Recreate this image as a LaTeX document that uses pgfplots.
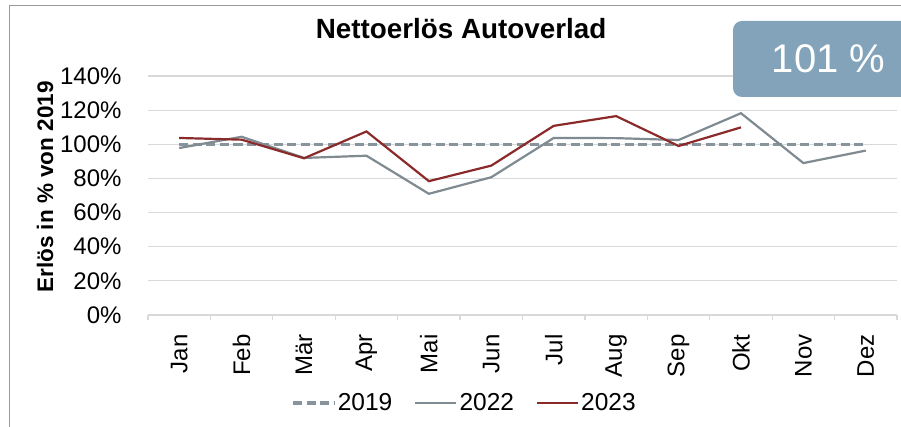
\documentclass[border=0pt]{standalone}
\usepackage{pgfplots}
\pgfplotsset{compat=1.18}
\usepackage{fontspec}
\setmainfont{Liberation Sans}
\definecolor{c19}{HTML}{87949B}
\definecolor{c22}{HTML}{7F8A91}
\definecolor{c23}{HTML}{8B2A2A}
\definecolor{boxc}{HTML}{82A3BA}
\definecolor{gridc}{HTML}{D9D9D9}
\begin{document}
\begin{tikzpicture}[x=1pt,y=1pt]
\useasboundingbox (0,0) rectangle (901,427);
\clip (0,0) rectangle (901,427);
\draw[color=black!40, line width=1pt] (9.5,-5) -- (9.5,421) -- (910,421);
\begin{axis}[
  at={(148pt,112pt)}, anchor=south west,
  scale only axis, width=749pt, height=239pt,
  xmin=-0.5, xmax=11.5, ymin=0, ymax=140,
  axis x line*=bottom, axis y line*=left,
  x axis line style={gridc, line width=1.2pt, -},
  y axis line style={draw=none},
  xtick={0,...,11},
  xticklabels={Jan,Feb,Mär,Apr,Mai,Jun,Jul,Aug,Sep,Okt,Nov,Dez},
  minor xtick={-0.5,0.5,...,11.5},
  major x tick style={draw=none},
  minor x tick style={gridc, line width=1.2pt},
  tick align=outside, minor tick length=5pt,
  ytick={0,20,...,140},
  yticklabels={0\%,20\%,40\%,60\%,80\%,100\%,120\%,140\%},
  ymajorgrids, grid style={gridc, line width=1.2pt},
  ytick style={draw=none},
  tick label style={font=\fontsize{24}{28}\selectfont, inner sep=0pt},
  xticklabel style={rotate=90, anchor=east},
  xticklabel shift=15pt,
  yticklabel shift=22pt,
  ylabel={\textbf{Erlös in \% von 2019}},
  ylabel style={font=\fontsize{22.5}{27}\selectfont, at={(axis description cs:-0.1375,0.5356)}, anchor=center, rotate=0},
  title={\textbf{Nettoerlös Autoverlad}},
  title style={font=\fontsize{27.8}{32}\selectfont, at={(axis description cs:0.418,1.1297)}, anchor=base},
  legend columns=3,
  legend style={at={(axis description cs:0.4226,-0.368)}, anchor=center, draw=none, fill=none,
    font=\fontsize{24.5}{28}\selectfont, inner sep=0pt,
    /tikz/every even column/.append style={column sep=20pt}},
  legend image code/.code={\draw[#1] (0pt,0pt) -- (41pt,0pt);},
  legend cell align=left,
  /pgf/number format/assume math mode=true,
]
\addplot[c19, line width=3.5pt, dash pattern=on 9pt off 4.5pt] coordinates {
(0,100)(1,100)(2,100)(3,100)(4,100)(5,100)(6,100)(7,100)(8,100)(9,100)(10,100)(11,100)};
\addlegendentry{2019}
\addplot[c22, line width=2.2pt] coordinates {
(0,97.8)(1,104.4)(2,92)(3,93.3)(4,71)(5,80.7)(6,103.7)(7,103.6)(8,102.5)(9,118.2)(10,89)(11,96.3)};
\addlegendentry{2022}
\addplot[c23, line width=2.2pt] coordinates {
(0,103.7)(1,102.7)(2,91.8)(3,107.5)(4,78.4)(5,87.5)(6,110.8)(7,116.5)(8,99)(9,109.9)};
\addlegendentry{2023}
\end{axis}
\fill[boxc, rounded corners=9pt] (733,330) rectangle (915,406);
\node[text=white, font=\fontsize{40}{46}\selectfont, anchor=center] at (828.5,368) {101 \%};
\end{tikzpicture}
\end{document}
